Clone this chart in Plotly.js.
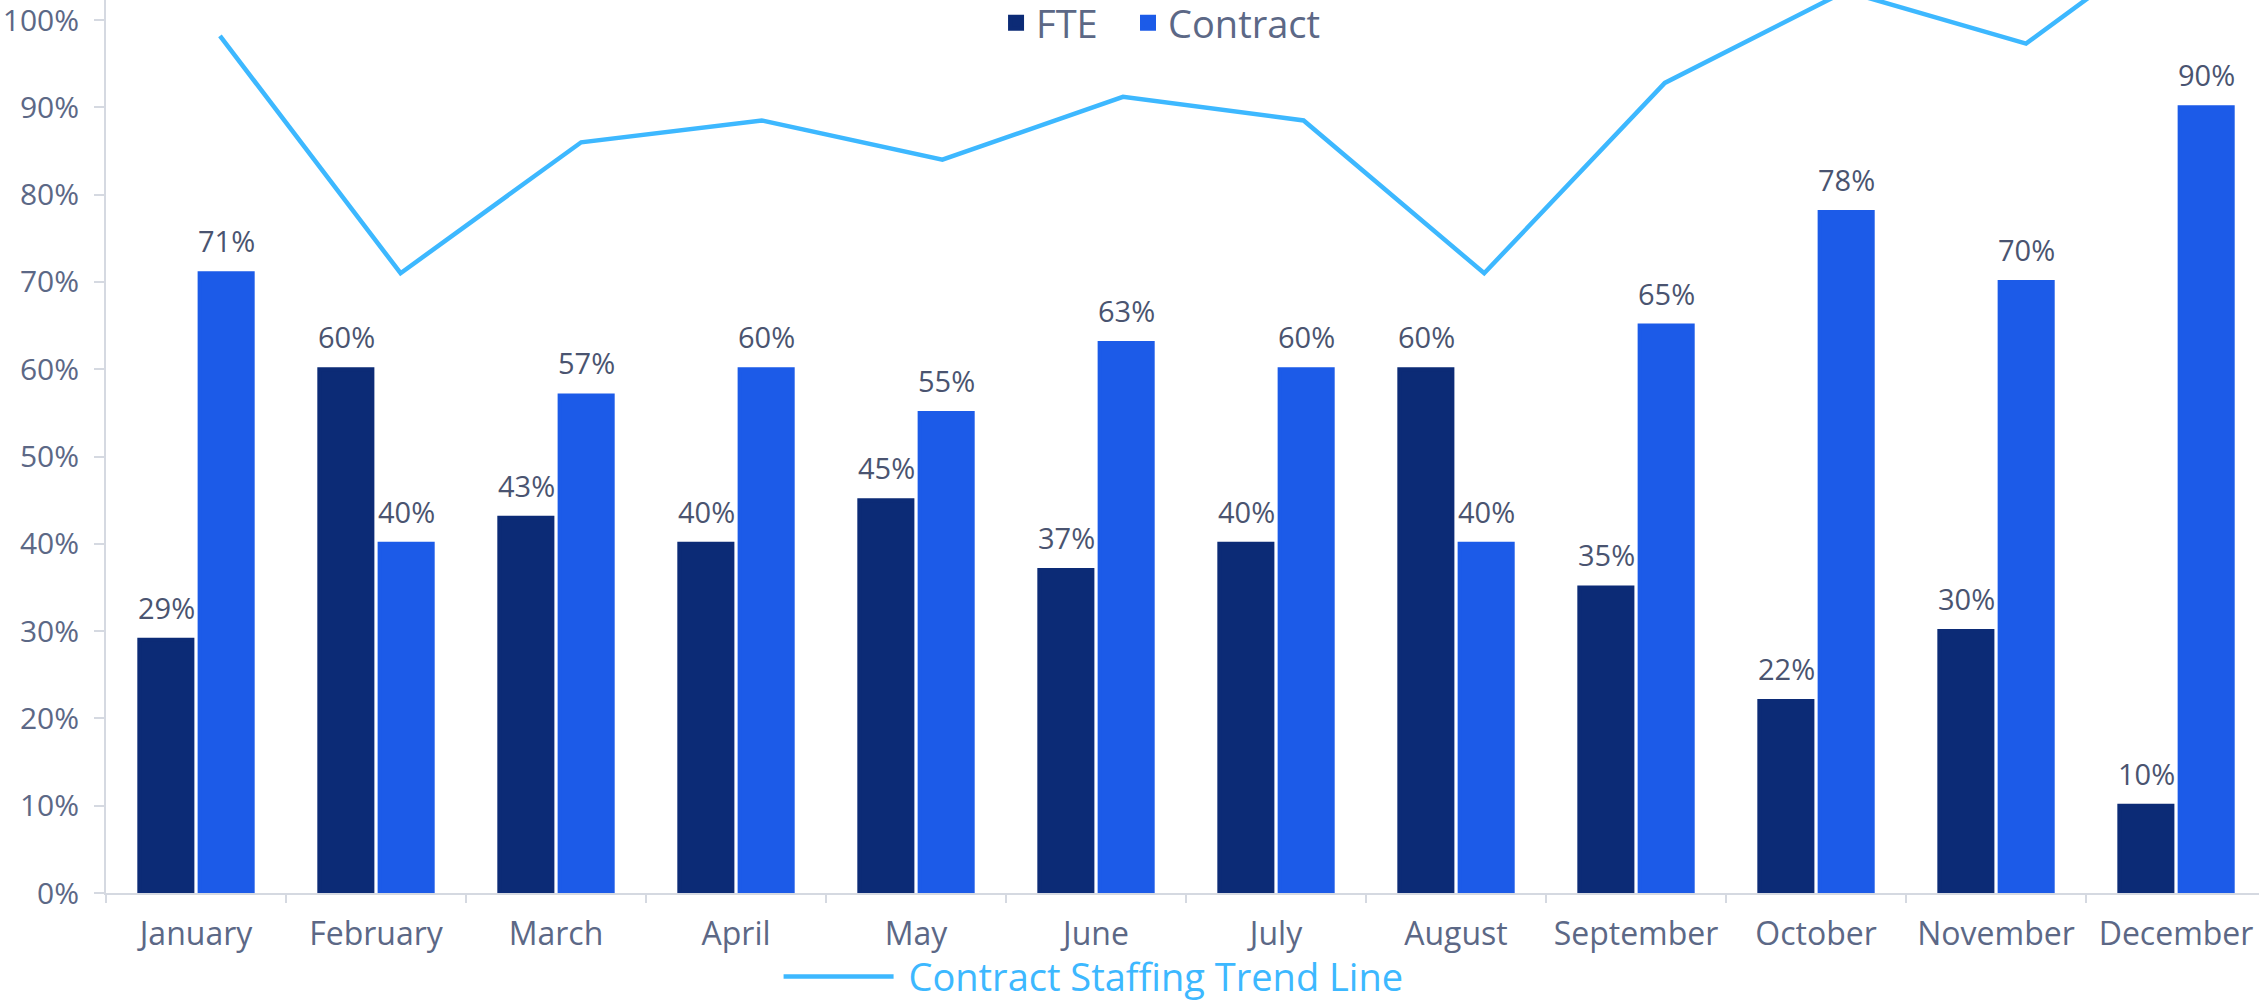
<!DOCTYPE html>
<html>
<head>
<meta charset="utf-8">
<script src="https://cdn.plot.ly/plotly-3.0.1.min.js"></script>
<style>
  html, body { margin: 0; padding: 0; background: #ffffff; }
  #chart { width: 2259px; height: 1004px; }
</style>
</head>
<body>
<div id="chart"></div>
<script>
var months = ["January", "February", "March", "April", "May", "June",
  "July", "August", "September", "October", "November", "December"];
var fteShare = [29, 60, 43, 40, 45, 37, 40, 60, 35, 22, 30, 10];
var contractShare = [71, 40, 57, 60, 55, 63, 60, 40, 65, 78, 70, 90];
var trendLine = [98.2, 71, 86, 88.5, 84, 91.2, 88.5, 71, 92.8, 103.3, 97.3, 112.5];
var yTicks = [0, 10, 20, 30, 40, 50, 60, 70, 80, 90, 100];

var FONT = "Open Sans, sans-serif";
var TICK_COLOR = "#5c6886";
var LABEL_COLOR = "#4a5470";
var AXIS_COLOR = "#d5d9e1";
var FTE_COLOR = "#0c2b76";
var CONTRACT_COLOR = "#1c5be8";
var TREND_COLOR = "#3db8ff";

var pct = function(v) { return v + "%"; };

var barTrace = function(name, values, color, legendId) {
  return {
    type: "bar",
    name: name,
    x: months,
    y: values,
    marker: { color: color, line: { color: color, width: 4 } },
    legend: legendId,
    hoverinfo: "skip"
  };
};

// value labels above each bar, shifted onto the left / right bar of the group
var barLabels = function(values, shift) {
  return values.map(function(v, i) {
    return {
      x: months[i],
      y: v,
      text: pct(v),
      showarrow: false,
      yanchor: "bottom",
      xshift: shift,
      yshift: 11,
      font: { family: FONT, size: 29, color: LABEL_COLOR }
    };
  });
};

var topLegend = function(x) {
  return {
    orientation: "h",
    x: x,
    xanchor: "left",
    y: 0.9742,
    yanchor: "middle",
    bgcolor: "rgba(0,0,0,0)",
    font: { family: FONT, size: 38, color: TICK_COLOR },
    itemwidth: 30
  };
};

var data = [
  barTrace("FTE", fteShare, FTE_COLOR, "legend"),
  barTrace("Contract", contractShare, CONTRACT_COLOR, "legend3"),
  {
    type: "scatter",
    mode: "lines",
    name: "\u00a0Contract Staffing Trend Line",
    x: months,
    y: trendLine,
    xaxis: "x2",
    line: { color: TREND_COLOR, width: 4.5 },
    legend: "legend2",
    hoverinfo: "skip"
  }
];

var layout = {
  width: 2259,
  height: 1004,
  margin: { l: 106, r: 0, t: 0, b: 111, autoexpand: false },
  paper_bgcolor: "#ffffff",
  plot_bgcolor: "#ffffff",
  font: { family: FONT, color: TICK_COLOR },
  barmode: "group",
  bargap: 0.33,
  bargroupgap: 0.12,
  annotations: barLabels(fteShare, -30).concat(barLabels(contractShare, 30)),
  xaxis: {
    type: "category",
    range: [-0.5, 11.461],
    showgrid: false,
    showline: true,
    linecolor: AXIS_COLOR,
    linewidth: 2,
    ticks: "outside",
    tickson: "boundaries",
    ticklen: 8,
    tickwidth: 2,
    tickcolor: AXIS_COLOR,
    ticklabelstandoff: 12,
    tickfont: { family: FONT, size: 32, color: TICK_COLOR },
    zeroline: false,
    automargin: false
  },
  xaxis2: {
    type: "category",
    overlaying: "x",
    range: [-0.631, 11.29],
    visible: false
  },
  yaxis: {
    range: [0, 102.3],
    tickvals: yTicks,
    ticktext: yTicks.map(pct),
    showgrid: false,
    showline: true,
    linecolor: AXIS_COLOR,
    linewidth: 2,
    ticks: "outside",
    ticklen: 10,
    tickwidth: 2,
    tickcolor: AXIS_COLOR,
    ticklabelstandoff: 9,
    ticklabeloverflow: "allow",
    tickfont: { family: FONT, size: 30, color: TICK_COLOR },
    zeroline: false,
    automargin: false
  },
  legend: topLegend(0.4134),
  legend3: topLegend(0.4747),
  legend2: {
    orientation: "h",
    x: 0.4587,
    xanchor: "center",
    yref: "container",
    y: 0.027,
    yanchor: "middle",
    bgcolor: "rgba(0,0,0,0)",
    font: { family: FONT, size: 38, color: TREND_COLOR },
    itemwidth: 110
  },
  showlegend: true
};

Plotly.newPlot("chart", data, layout, { displayModeBar: false, staticPlot: true });
</script>
</body>
</html>
